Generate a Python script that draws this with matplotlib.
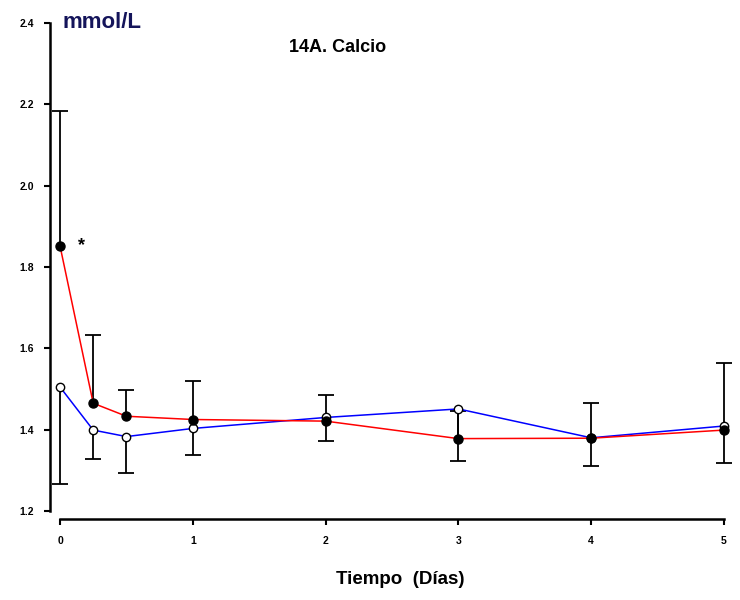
import matplotlib
matplotlib.use("Agg")
import numpy as np
import matplotlib.pyplot as plt

plt.rcParams["font.family"] = ["Liberation Sans", "DejaVu Sans"]
plt.rcParams["font.weight"] = "bold"

# time points (days) and calcium, mmol/L
dias = [0, 0.25, 0.5, 1, 2, 3, 4, 5]
ca_rojo = [1.852, 1.465, 1.433, 1.425, 1.421, 1.378, 1.379, 1.399]
sd_rojo = [0.331, 0.169, 0.064, 0.095, 0.064, 0.068, 0.087, 0.164]
ca_azul = [1.505, 1.399, 1.383, 1.403, 1.430, 1.451, 1.380, 1.409]
sd_azul = [0.239, 0.072, 0.090, 0.066, 0.058, 0.127, 0.069, 0.090]
yticks = [1.2, 1.4, 1.6, 1.8, 2.0, 2.2, 2.4]
xticks = [0, 1, 2, 3, 4, 5]

fig = plt.figure(figsize=(7.4, 6.0), dpi=100)
ax = fig.add_axes([60 / 740, 89 / 600, 664 / 740, 488 / 600])


def half_bar(x, y, d):
    # one-sided error bar: stem from the mean to y+d, cap only at the far end
    x, y, d = np.asarray(x), np.asarray(y), np.asarray(d)
    ax.vlines(x, y, y + d, color="black", lw=1.3, zorder=2, clip_on=False)
    ax.plot(x, y + d, "_", color="black", ms=11, mew=1.3, zorder=2, clip_on=False)


# red group bars go up, blue group bars go down
half_bar(dias, ca_rojo, sd_rojo)
half_bar(dias, ca_azul, -np.asarray(sd_azul))
ax.plot(dias, ca_azul, "-", color="#0000ff", lw=1.1, zorder=3, clip_on=False)
ax.plot(dias, ca_rojo, "-", color="#ff0000", lw=1.1, zorder=3, clip_on=False)
ax.plot(dias, ca_azul, "o", mfc="white", mec="black", mew=1.0, ms=6,
        zorder=4, clip_on=False)
ax.plot(dias, ca_rojo, "o", mfc="black", mec="black", ms=6.5,
        zorder=5, clip_on=False)

ax.text(0.16, 1.852, "*", fontsize=13, fontweight="bold", ha="center", va="center")

ax.set_xlim(0, 5)
ax.set_ylim(1.2, 2.4)
ax.set_xticks(xticks)
ax.set_yticks(yticks)
ax.set_yticklabels(["%.1f" % v for v in yticks])
ax.tick_params(axis="both", labelsize=7.5, width=1.5, length=4.5)
ax.tick_params(axis="y", pad=6.5)
ax.tick_params(axis="x", pad=8)
for s in ("top", "right"):
    ax.spines[s].set_visible(False)
ax.spines["left"].set_position(("outward", 7.5))
ax.spines["bottom"].set_position(("outward", 5.5))
ax.spines["left"].set_linewidth(1.8)
ax.spines["bottom"].set_linewidth(1.8)
for lab in ax.get_xticklabels() + ax.get_yticklabels():
    lab.set_fontweight("bold")

fig.text(62 / 740, 1 - 22 / 600, "mmol/L", fontsize=16, fontweight="bold",
         color="#14145a", ha="left", va="center")
fig.text(338 / 740, 1 - 47 / 600, "14A. Calcio", fontsize=13, fontweight="bold",
         ha="center", va="center")
fig.text(400 / 740, 1 - 579 / 600, "Tiempo  (Días)", fontsize=13.5,
         fontweight="bold", ha="center", va="center")

fig.savefig("out.png", dpi=100)
